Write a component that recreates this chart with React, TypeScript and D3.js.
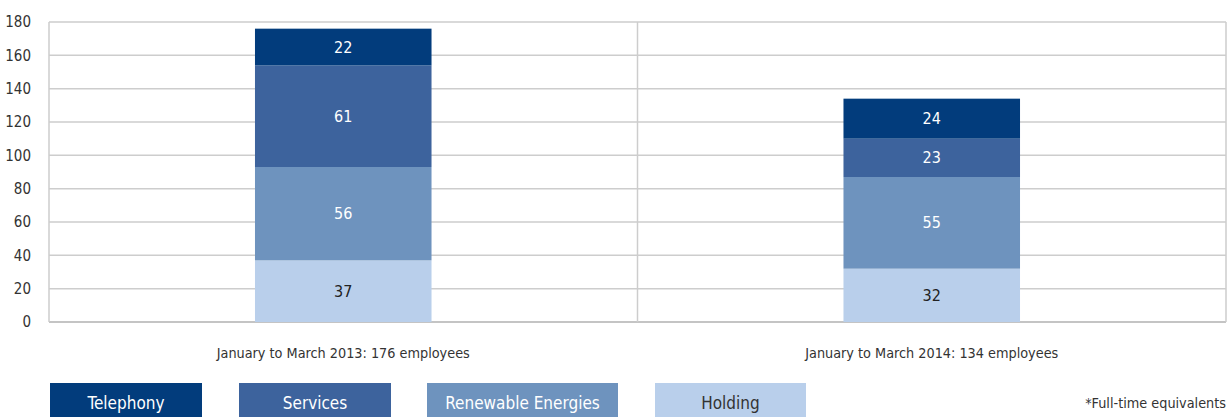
import { useEffect, useRef } from 'react';
import * as d3 from 'd3';

const categories = ['January to March 2013: 176 employees', 'January to March 2014: 134 employees'];
const seriesNames = ['Holding', 'Renewable Energies', 'Services', 'Telephony'];
const holding = [37, 32];
const renewable = [56, 55];
const services = [61, 23];
const telephony = [22, 24];
const yTicks = [0, 20, 40, 60, 80, 100, 120, 140, 160, 180];
const legendOrder = ['Telephony', 'Services', 'Renewable Energies', 'Holding'];

const colors: Record<string, string> = {
  Telephony: '#023c7c',
  Services: '#3d639d',
  'Renewable Energies': '#6e93be',
  Holding: '#b9cfeb',
};

const FONT = "'Liberation Sans Narrow', 'DejaVu Sans Condensed', 'Roboto', sans-serif";

const App = () => {
  const svgRef = useRef<SVGSVGElement>(null);

  useEffect(() => {
    const W = 1228;
    const H = 417;
    const margin = { top: 22, right: 2, bottom: 95, left: 49 };
    const width = W - margin.left - margin.right;
    const height = H - margin.top - margin.bottom;

    const root = d3.select(svgRef.current);
    root.selectAll('*').remove();
    const svg = root.append('g').attr('transform', `translate(${margin.left},${margin.top})`);

    const x = d3.scaleBand().domain(categories).range([0, width]).paddingInner(0).paddingOuter(0);
    const y = d3.scaleLinear().domain([0, 180]).range([height, 0]);

    // 資料整理成堆疊
    const table = categories.map((c, i) => ({
      cat: c,
      Holding: holding[i],
      'Renewable Energies': renewable[i],
      Services: services[i],
      Telephony: telephony[i],
    }));
    const stacked = d3.stack<any>().keys(seriesNames)(table);

    // 格線
    svg
      .selectAll('.grid')
      .data(yTicks)
      .enter()
      .append('line')
      .attr('x1', 0)
      .attr('x2', width)
      .attr('y1', (d) => y(d))
      .attr('y2', (d) => y(d))
      .attr('stroke', (d) => (d === 0 ? '#c4c4c4' : '#cdcdcd'))
      .attr('stroke-width', (d) => (d === 0 ? 2 : 1.5));

    // 外框直線
    [0, x.bandwidth(), width].forEach((xx) => {
      svg
        .append('line')
        .attr('x1', xx)
        .attr('x2', xx)
        .attr('y1', y(180))
        .attr('y2', y(0))
        .attr('stroke', '#cdcdcd')
        .attr('stroke-width', 1.5);
    });

    // Y 軸標籤
    svg
      .selectAll('.ytick')
      .data(yTicks)
      .enter()
      .append('text')
      .attr('x', -18)
      .attr('y', (d) => y(d))
      .attr('dy', '0.35em')
      .attr('text-anchor', 'end')
      .attr('fill', '#333')
      .style('font-family', FONT)
      .style('font-size', '15px')
      .text((d) => d);

    const barW = x.bandwidth() * 0.3;

    stacked.forEach((layer) => {
      const key = layer.key;
      layer.forEach((seg, i) => {
        const cx = (x(categories[i]) as number) + x.bandwidth() / 2;
        svg
          .append('rect')
          .attr('x', cx - barW / 2)
          .attr('width', barW)
          .attr('y', y(seg[1]))
          .attr('height', y(seg[0]) - y(seg[1]))
          .attr('fill', colors[key]);
        svg
          .append('text')
          .attr('x', cx)
          .attr('y', (y(seg[0]) + y(seg[1])) / 2)
          .attr('dy', '0.35em')
          .attr('text-anchor', 'middle')
          .attr('fill', key === 'Holding' ? '#222' : '#fff')
          .style('font-family', FONT)
          .style('font-size', '16px')
          .style('font-weight', 500)
          .text(seg[1] - seg[0]);
      });
    });

    // 類別標籤
    categories.forEach((c) => {
      svg
        .append('text')
        .attr('x', (x(c) as number) + x.bandwidth() / 2)
        .attr('y', height + 31)
        .attr('dy', '0.35em')
        .attr('text-anchor', 'middle')
        .attr('fill', '#333')
        .style('font-family', FONT)
        .style('font-size', '14.3px')
        .text(c);
    });

    // 圖例
    const legendX = [50, 239, 427, 655];
    const legendW = [152, 152, 191, 151];
    legendOrder.forEach((name, i) => {
      const g = root.append('g').attr('transform', `translate(${legendX[i]},383)`);
      g.append('rect').attr('width', legendW[i]).attr('height', 36).attr('fill', colors[name]);
      g.append('text')
        .attr('x', legendW[i] / 2)
        .attr('y', 20)
        .attr('dy', '0.35em')
        .attr('text-anchor', 'middle')
        .attr('fill', name === 'Holding' ? '#333' : '#fff')
        .style('font-family', FONT)
        .style('font-size', '17px')
        .text(name);
    });

    root
      .append('text')
      .attr('x', 1226)
      .attr('y', 403)
      .attr('dy', '0.35em')
      .attr('text-anchor', 'end')
      .attr('fill', '#333')
      .style('font-family', FONT)
      .style('font-size', '14.3px')
      .text('*Full-time equivalents');
  }, []);

  return (
    <svg
      ref={svgRef}
      width={1228}
      height={417}
      style={{ position: 'absolute', left: 0, top: 0, background: '#fff' }}
    />
  );
};

export default App;
